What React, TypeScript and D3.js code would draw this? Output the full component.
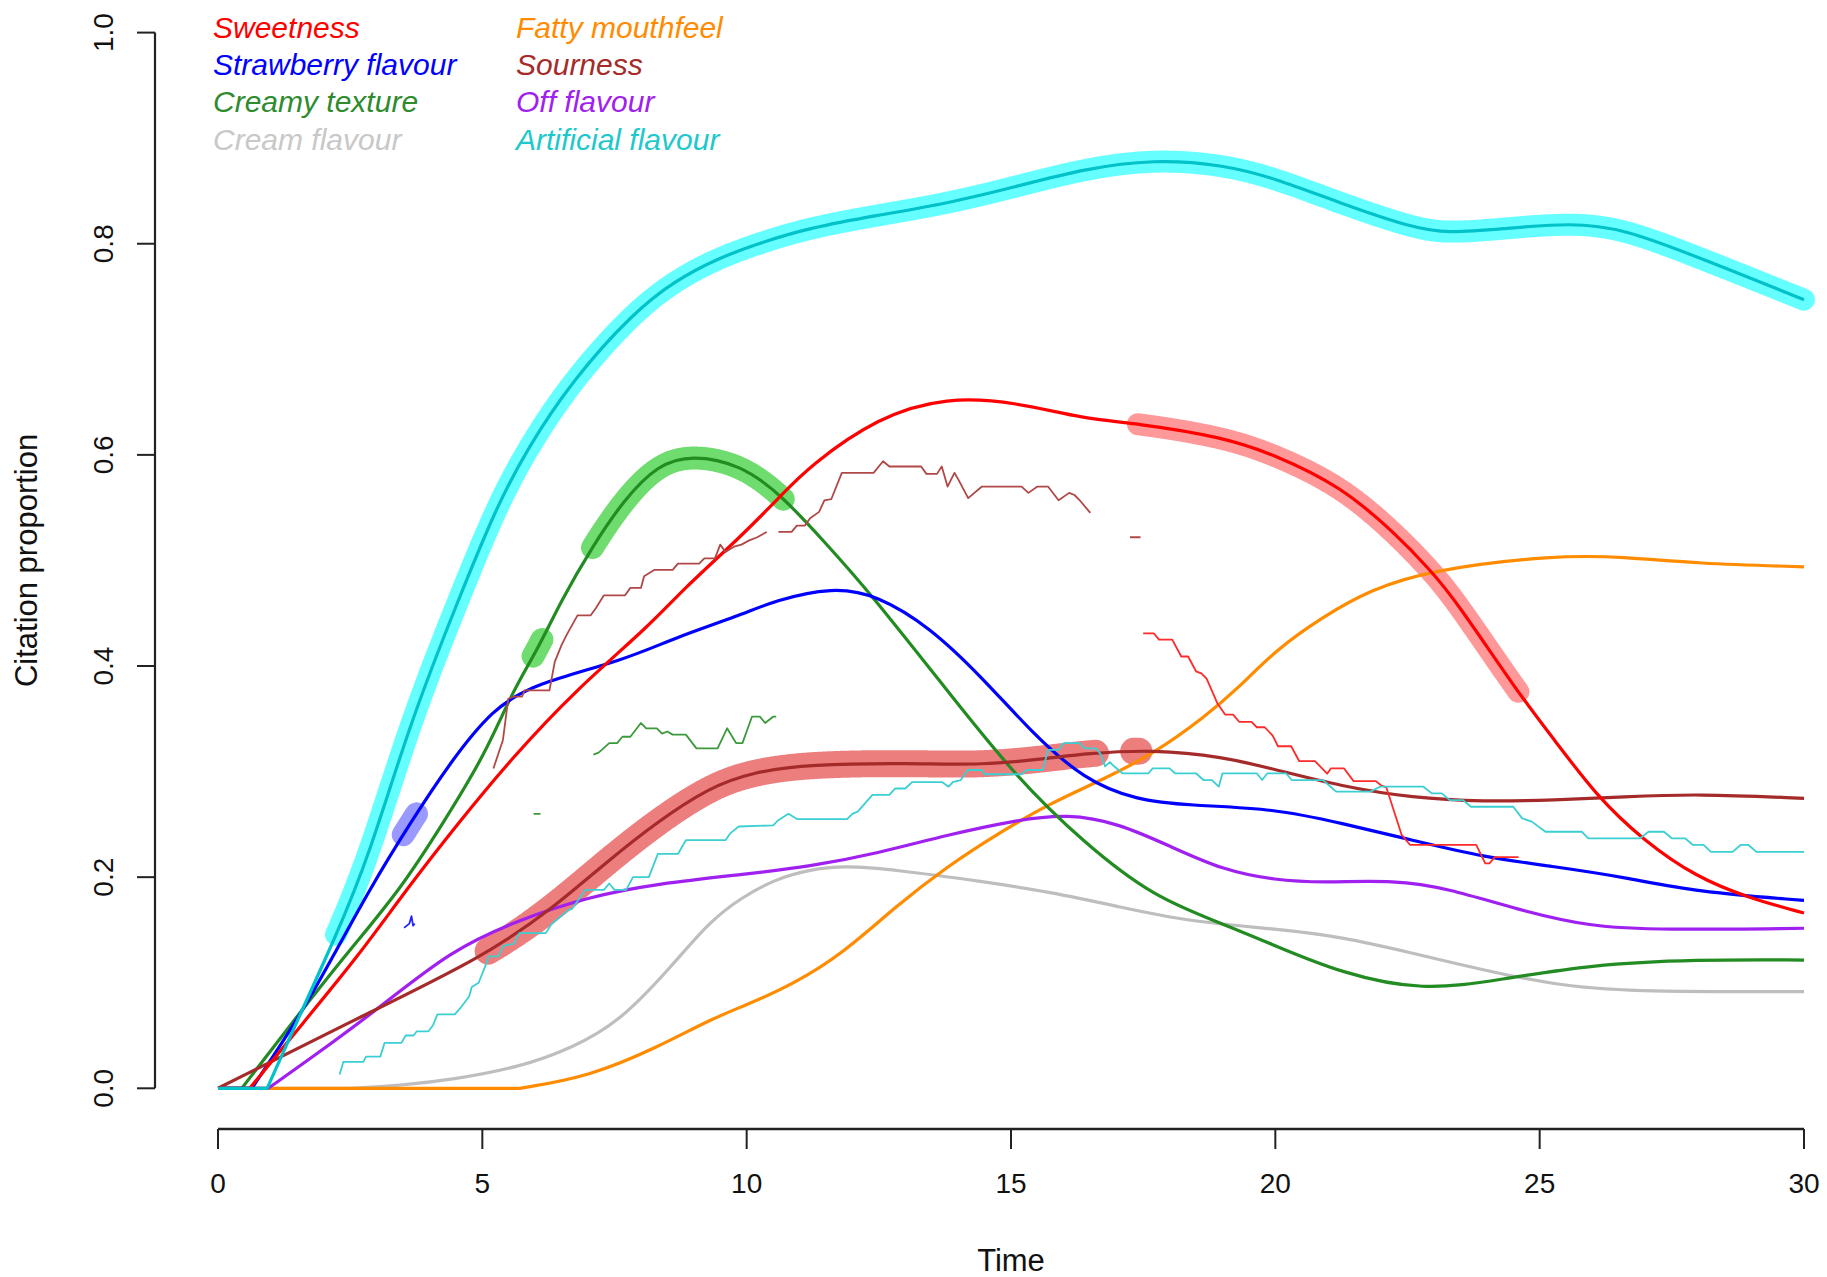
import React, { useEffect, useRef, useState } from 'react';
import * as d3 from 'd3';

type P = [number, number];

const xTicks = [0, 5, 10, 15, 20, 25, 30];
const yTicks = [0, 0.2, 0.4, 0.6, 0.8, 1.0];
const legendLeft = ['Sweetness', 'Strawberry flavour', 'Creamy texture', 'Cream flavour'];
const legendRight = ['Fatty mouthfeel', 'Sourness', 'Off flavour', 'Artificial flavour'];

// Smoothed citation proportions [time, proportion]
const sweetness: P[] = [[0,0],[0.6,0],[1.61,0.062],[2.65,0.125],[3.56,0.188],[4.54,0.251],[5.58,0.314],[6.76,0.377],[8.2,0.44],[8.78,0.472],[9.88,0.522],[10.66,0.562],[11.18,0.589],[12.48,0.636],[13.79,0.655],[15.09,0.65],[16.39,0.634],[17.37,0.63],[19.0,0.617],[20.0,0.6],[21.25,0.57],[22.26,0.526],[22.93,0.491],[23.4,0.463],[24.6,0.374],[25.28,0.33],[26.09,0.276],[26.96,0.235],[27.96,0.2],[28.97,0.18],[30,0.166]];
const strawberry: P[] = [[0,0],[0.64,0],[1.51,0.065],[2.2,0.127],[2.85,0.187],[3.63,0.251],[4.41,0.31],[5.19,0.359],[5.97,0.383],[7.66,0.405],[8.65,0.427],[9.88,0.448],[10.52,0.462],[11.63,0.475],[12.48,0.467],[13.46,0.437],[14.44,0.39],[15.41,0.336],[16.39,0.292],[17.37,0.273],[18.35,0.268],[20.0,0.265],[21.25,0.251],[22.6,0.235],[23.93,0.219],[25.28,0.21],[26.6,0.2],[27.96,0.186],[30,0.178]];
const creamy: P[] = [[0,0],[0.45,0],[1.4,0.062],[2.39,0.125],[3.45,0.188],[4.28,0.253],[5.05,0.316],[5.58,0.377],[6.04,0.415],[6.5,0.463],[7.08,0.513],[7.67,0.557],[8.32,0.591],[8.97,0.6],[9.88,0.591],[10.66,0.562],[11.5,0.516],[12.29,0.472],[13.79,0.377],[15.09,0.295],[16.39,0.232],[17.7,0.181],[19.0,0.156],[20.0,0.135],[21.25,0.109],[22.79,0.092],[24.27,0.103],[25.95,0.117],[27.96,0.122],[30,0.1215]];
const cream: P[] = [[0,0],[2.5,0],[3.5,0.003],[4.41,0.008],[5.71,0.02],[6.69,0.038],[7.6,0.063],[8.57,0.115],[9.3,0.158],[9.88,0.18],[10.53,0.198],[11.18,0.207],[11.83,0.211],[12.81,0.207],[14.44,0.196],[15.74,0.186],[17.04,0.172],[18.35,0.158],[20.0,0.151],[21.25,0.1436],[22.6,0.128],[23.93,0.112],[25.28,0.098],[26.6,0.0915],[30,0.0915]];
const fatty: P[] = [[0,0],[5.71,0],[7.02,0.011],[8.32,0.039],[9.3,0.065],[9.95,0.078],[10.86,0.098],[11.83,0.128],[12.81,0.172],[13.79,0.21],[14.76,0.2415],[15.74,0.27],[16.72,0.292],[17.7,0.317],[18.67,0.352],[19.32,0.38],[20.0,0.415],[20.91,0.447],[21.79,0.472],[22.93,0.491],[25.28,0.505],[26.6,0.5035],[27.96,0.497],[30,0.494]];
const sourness: P[] = [[0,0],[2.46,0.062],[5.06,0.125],[6.37,0.172],[7.34,0.214],[8.32,0.253],[9.3,0.285],[10.07,0.299],[11.18,0.307],[13.13,0.308],[14.44,0.306],[15.74,0.3126],[16.39,0.317],[17.7,0.321],[19.0,0.314],[20.0,0.302],[21.25,0.286],[22.6,0.275],[23.93,0.2715],[25.28,0.273],[26.6,0.276],[27.96,0.279],[30,0.2747]];
const offFlavour: P[] = [[0,0],[0.95,0],[1.8,0.03],[3.05,0.076],[4.41,0.131],[5.71,0.16],[7.02,0.1815],[8.32,0.194],[10.0,0.203],[11.18,0.21],[12.48,0.2226],[13.79,0.24],[15.09,0.254],[16.07,0.26],[17.04,0.251],[18.02,0.229],[19.0,0.2068],[20.0,0.197],[20.91,0.1948],[22.26,0.1973],[23.26,0.1895],[24.6,0.169],[25.95,0.153],[27.29,0.15],[30,0.1516]];
const artificial: P[] = [[0,0],[0.93,0],[1.48,0.062],[2.23,0.144],[2.85,0.219],[3.63,0.346],[4.54,0.462],[5.26,0.55],[5.84,0.605],[6.69,0.67],[7.86,0.735],[8.65,0.765],[9.4,0.785],[10.2,0.8],[11.18,0.815],[12.48,0.827],[13.79,0.838],[15.09,0.854],[16.39,0.871],[17.7,0.88],[19.0,0.875],[20.0,0.862],[21.25,0.838],[22.6,0.815],[23.26,0.81],[24.27,0.814],[25.6,0.82],[26.6,0.814],[27.96,0.788],[30,0.747]];

// Raw (significant) citation proportions, null = gap
const sournessRaw: (P | null)[] = [[5.21,0.303],[5.39,0.33],[5.49,0.369],[5.6,0.371],[5.75,0.371],[5.8,0.377],[6.27,0.377],[6.37,0.404],[6.5,0.42],[6.6,0.43],[6.8,0.448],[7.05,0.448],[7.15,0.455],[7.3,0.467],[7.7,0.467],[7.8,0.474],[8.0,0.474],[8.06,0.485],[8.25,0.491],[8.6,0.491],[8.7,0.497],[9.1,0.497],[9.2,0.502],[9.4,0.502],[9.5,0.515],[9.6,0.508],[9.76,0.513],[9.9,0.515],[10.05,0.519],[10.2,0.522],[10.38,0.527],null,[10.6,0.527],[10.85,0.527],[10.95,0.533],[11.1,0.533],[11.2,0.54],[11.37,0.546],[11.47,0.557],[11.6,0.558],[11.8,0.583],[12.4,0.583],[12.58,0.594],[12.7,0.589],[13.3,0.589],[13.4,0.582],[13.6,0.582],[13.69,0.589],[13.8,0.57],[13.93,0.583],[14.0,0.577],[14.19,0.559],[14.45,0.57],[15.2,0.57],[15.33,0.564],[15.5,0.57],[15.7,0.57],[15.9,0.557],[16.1,0.564],[16.2,0.562],[16.3,0.557],[16.5,0.545],null,[17.25,0.522],[17.45,0.522]];
const creamyRaw: (P | null)[] = [[5.97,0.26],[6.1,0.26],null,[7.1,0.316],[7.2,0.318],[7.4,0.327],[7.55,0.327],[7.65,0.333],[7.8,0.333],[8.0,0.346],[8.1,0.341],[8.3,0.341],[8.4,0.336],[8.5,0.338],[8.6,0.335],[8.85,0.335],[9.05,0.322],[9.45,0.322],[9.63,0.341],[9.8,0.327],[9.92,0.327],[10.1,0.352],[10.25,0.352],[10.35,0.346],[10.5,0.352],[10.56,0.352]];
const sweetnessRaw: (P | null)[] = [[17.5,0.431],[17.7,0.431],[17.8,0.425],[18.05,0.425],[18.22,0.409],[18.35,0.409],[18.5,0.395],[18.6,0.393],[18.7,0.388],[18.9,0.365],[19.05,0.354],[19.2,0.354],[19.32,0.347],[19.55,0.347],[19.65,0.342],[19.8,0.342],[19.95,0.334],[20.05,0.324],[20.3,0.324],[20.45,0.31],[20.75,0.31],[20.98,0.298],[21.05,0.303],[21.3,0.303],[21.48,0.291],[21.9,0.291],[22.0,0.287],[22.1,0.285],[22.39,0.24],[22.55,0.2305],[23.8,0.2305],[23.97,0.213],[24.05,0.213],[24.15,0.219],[24.6,0.219]];
const strawberryRaw: (P | null)[] = [[3.52,0.152],[3.62,0.156],[3.66,0.163],[3.69,0.154],[3.72,0.156]];
const artificialRaw: (P | null)[] = [[2.3,0.013],[2.37,0.025],[2.75,0.025],[2.8,0.03],[3.07,0.03],[3.15,0.043],[3.47,0.043],[3.55,0.05],[3.7,0.05],[3.76,0.054],[3.98,0.054],[4.07,0.06],[4.15,0.07],[4.48,0.07],[4.6,0.077],[4.75,0.087],[4.8,0.096],[4.93,0.1],[5.05,0.115],[5.12,0.125],[5.3,0.125],[5.4,0.135],[5.6,0.137],[5.7,0.147],[6.2,0.147],[6.3,0.155],[6.63,0.169],[6.7,0.17],[6.95,0.188],[7.3,0.188],[7.4,0.194],[7.5,0.188],[7.72,0.188],[7.85,0.2],[8.15,0.2],[8.32,0.222],[8.7,0.222],[8.85,0.235],[9.6,0.235],[9.69,0.2415],[9.85,0.248],[10.5,0.249],[10.6,0.254],[10.79,0.26],[10.95,0.255],[11.9,0.255],[12.0,0.26],[12.1,0.262],[12.38,0.278],[12.7,0.278],[12.81,0.284],[13.0,0.284],[13.13,0.29],[13.7,0.29],[13.82,0.2857],[13.9,0.29],[14.05,0.292],[14.18,0.3015],[14.45,0.3015],[14.5,0.2975],[15.2,0.2975],[15.3,0.3015],[15.6,0.3015],[15.7,0.3205],[15.9,0.3205],[16.0,0.327],[16.3,0.327],[16.39,0.322],[16.6,0.322],[16.69,0.317],[16.78,0.305],[16.87,0.309],[16.95,0.305],[17.11,0.2984],[17.6,0.2984],[17.68,0.303],[18.0,0.303],[18.1,0.2984],[18.5,0.2984],[18.64,0.292],[18.8,0.292],[18.93,0.2857],[19.0,0.2984],[19.65,0.2984],[19.75,0.292],[19.85,0.2984],[20.2,0.2984],[20.31,0.292],[20.9,0.292],[21.15,0.281],[21.8,0.281],[21.98,0.2857],[22.8,0.2857],[22.96,0.2794],[23.15,0.2794],[23.3,0.273],[23.55,0.273],[23.7,0.2667],[24.5,0.2667],[24.67,0.2557],[24.85,0.2526],[25.11,0.243],[25.8,0.243],[25.92,0.2368],[26.9,0.2368],[27.06,0.243],[27.35,0.243],[27.5,0.2368],[27.75,0.2368],[27.9,0.2305],[28.1,0.2305],[28.24,0.224],[28.65,0.224],[28.8,0.2305],[28.95,0.2305],[29.1,0.224],[30,0.224]];

// Highlighted (significant) time intervals
const artificialHi: P[] = [[2.23, 30]];
const sweetnessHi: P[] = [[17.4, 24.6]];
const creamyHi: P[] = [[5.96, 6.13], [7.08, 10.7]];
const strawberryHi: P[] = [[3.5, 3.76]];
const sournessHi: P[] = [[5.1, 16.6], [17.32, 17.42]];

const FONT = '"Liberation Sans", Arial, Helvetica, sans-serif';

export default function App() {
  const W = 1827, H = 1277;
  const x = d3.scaleLinear().domain([0, 30]).range([218, 1804]);
  const y = d3.scaleLinear().domain([0, 1]).range([1088.3, 32.6]);

  const basis = d3.line<P>().x(d => x(d[0])).y(d => y(d[1])).curve(d3.curveBasis);
  const linear = d3.line<P>().x(d => x(d[0])).y(d => y(d[1]));
  // flat zero lead-in drawn straight, smooth spline from the take-off point on
  const smooth = (data: P[]): string => {
    let k = 0;
    while (k + 1 < data.length && data[k + 1][1] === 0) k++;
    const head = linear(data.slice(0, k + 1)) || `M${x(data[0][0])},${y(data[0][1])}`;
    const tail = basis(data.slice(k)) || '';
    return head + 'L' + tail.slice(1);
  };
  const raw = d3.line<P | null>().defined(d => d !== null).x(d => x((d as P)[0])).y(d => y((d as P)[1]));

  const series = [
    { k: 'cream', d: cream, c: '#bebebe' },
    { k: 'fatty', d: fatty, c: '#ff8c00' },
    { k: 'off', d: offFlavour, c: '#a020f0' },
    { k: 'creamy', d: creamy, c: '#228b22' },
    { k: 'straw', d: strawberry, c: '#0000ff' },
    { k: 'sour', d: sourness, c: '#a52a2a' },
    { k: 'sweet', d: sweetness, c: '#ff0000' },
    { k: 'art', d: artificial, c: '#00c2c8' },
  ];
  const highlights = [
    { k: 'art', iv: artificialHi, c: 'rgba(0,255,255,0.6)', w: 22 },
    { k: 'sweet', iv: sweetnessHi, c: 'rgba(255,0,0,0.4)', w: 22 },
    { k: 'creamy', iv: creamyHi, c: 'rgba(50,205,50,0.7)', w: 23 },
    { k: 'straw', iv: strawberryHi, c: 'rgba(0,0,255,0.4)', w: 23 },
    { k: 'sour', iv: sournessHi, c: 'rgba(225,40,40,0.6)', w: 27 },
  ];
  const raws = [
    { d: sournessRaw, c: '#b04848' },
    { d: creamyRaw, c: '#3c9a3c' },
    { d: sweetnessRaw, c: '#ff2a2a' },
    { d: strawberryRaw, c: '#2222ff' },
    { d: artificialRaw, c: '#3ccfd2' },
  ];
  const legendColorsL = ['#ff0000', '#0000ff', '#2e8b2e', '#c8c8c8'];
  const legendColorsR = ['#ff8c00', '#a52a2a', '#a020f0', '#1ec8cc'];

  const refs = useRef<Record<string, SVGPathElement | null>>({});
  const [hiPaths, setHiPaths] = useState<{ d: string; c: string; w: number }[]>([]);

  useEffect(() => {
    const out: { d: string; c: string; w: number }[] = [];
    highlights.forEach(h => {
      const el = refs.current[h.k];
      if (!el) return;
      const L = el.getTotalLength();
      const pts: [number, number][] = [];
      for (let s = 0; s <= L; s += 0.75) {
        const p = el.getPointAtLength(s);
        pts.push([p.x, p.y]);
      }
      h.iv.forEach(iv => {
        const x0 = x(iv[0]), x1 = x(iv[1]);
        const seg = pts.filter(p => p[0] >= x0 && p[0] <= x1);
        if (seg.length > 1) out.push({ d: 'M' + seg.map(p => `${p[0].toFixed(2)},${p[1].toFixed(2)}`).join('L'), c: h.c, w: h.w });
      });
    });
    setHiPaths(out);
  }, []);

  return (
    <svg width={W} height={H} style={{ position: 'absolute', left: 0, top: 0, background: '#fff' }} fontFamily={FONT}>
      <rect x={0} y={0} width={W} height={H} fill="#fff" />
      <g>
        {hiPaths.map((h, i) => (
          <path key={`h${i}`} d={h.d} fill="none" stroke={h.c} strokeWidth={h.w} strokeLinecap="round" strokeLinejoin="round" />
        ))}
      </g>
      {series.map(s => (
        <path key={s.k} ref={el => { refs.current[s.k] = el; }} d={smooth(s.d)} fill="none" stroke={s.c} strokeWidth={3.2} strokeLinejoin="round" />
      ))}
      {raws.map((r, i) => (
        <path key={`r${i}`} d={raw(r.d) || ''} fill="none" stroke={r.c} strokeWidth={1.8} strokeLinejoin="round" />
      ))}
      {/* y axis */}
      <line x1={155} x2={155} y1={y(0)} y2={y(1)} stroke="#222" strokeWidth={2.2} />
      {yTicks.map(t => (
        <g key={`yt${t}`}>
          <line x1={137} x2={155} y1={y(t)} y2={y(t)} stroke="#222" strokeWidth={2} />
          <text transform={`translate(103,${y(t)}) rotate(-90)`} textAnchor="middle" dominantBaseline="central" fontSize={28} fill="#111">{t.toFixed(1)}</text>
        </g>
      ))}
      {/* x axis */}
      <line x1={x(0)} x2={x(30)} y1={1129} y2={1129} stroke="#222" strokeWidth={2.5} />
      {xTicks.map(t => (
        <g key={`xt${t}`}>
          <line x1={x(t)} x2={x(t)} y1={1129} y2={1149} stroke="#222" strokeWidth={2} />
          <text x={x(t)} y={1183} textAnchor="middle" dominantBaseline="central" fontSize={28} fill="#111">{t}</text>
        </g>
      ))}
      <text x={(x(0) + x(30)) / 2} y={1260} textAnchor="middle" dominantBaseline="central" fontSize={31} fill="#111">Time</text>
      <text transform={`translate(26,${(y(0) + y(1)) / 2}) rotate(-90)`} textAnchor="middle" dominantBaseline="central" fontSize={31} fill="#111">Citation proportion</text>
      {/* legend */}
      {legendLeft.map((n, i) => (
        <text key={`ll${i}`} x={213} y={38 + i * 37.2} fontSize={30} fontStyle="italic" fill={legendColorsL[i]}>{n}</text>
      ))}
      {legendRight.map((n, i) => (
        <text key={`lr${i}`} x={516} y={38 + i * 37.2} fontSize={30} fontStyle="italic" fill={legendColorsR[i]}>{n}</text>
      ))}
    </svg>
  );
}
